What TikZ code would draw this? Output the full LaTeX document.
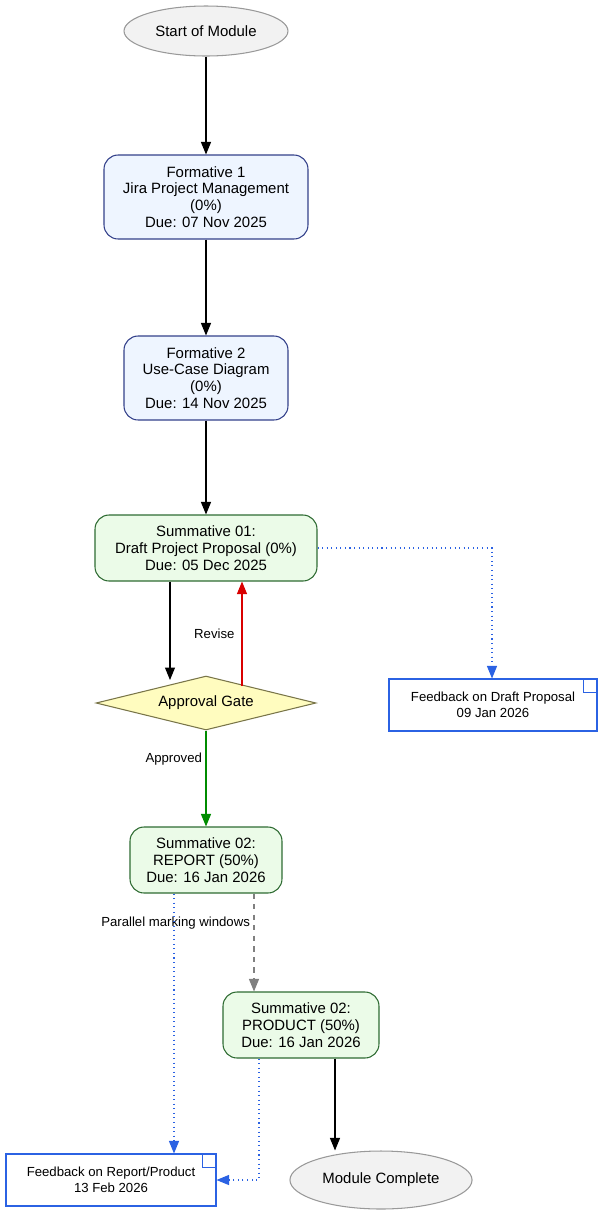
\documentclass[tikz,border=0pt]{standalone}
\usepackage{fontspec}
\setmainfont{Liberation Sans}
\usetikzlibrary{positioning,shapes.geometric,arrows.meta}
\definecolor{fbBlue}{HTML}{2B62E3}
\definecolor{formBlue}{HTML}{EEF5FF}
\definecolor{formLine}{HTML}{33408A}
\definecolor{sumGreen}{HTML}{EBFBE8}
\definecolor{sumLine}{HTML}{2E6B32}
\tikzset{%
  >={Triangle[width=2mm,length=2.5mm]},
  % node styles
         base/.style = {draw, text centered, align=center,
                        font=\fontsize{8.5}{9.6}\selectfont},
    terminal/.style = {base, ellipse, draw=gray!80, fill=gray!10,
                       minimum height=1cm},
   formative/.style = {base, rectangle, rounded corners=8pt, draw=formLine,
                       fill=formBlue, minimum height=1.68cm},
   summative/.style = {base, rectangle, rounded corners=8pt, draw=sumLine,
                       fill=sumGreen, minimum height=1.32cm},
        gate/.style = {base, diamond, aspect=4, draw=black!60!yellow,
                       fill=yellow!25, inner sep=1pt},
    feedback/.style = {base, rectangle, draw=fbBlue, fill=white,
                       minimum height=1.04cm, font=\fontsize{7.5}{9}\selectfont},
         lbl/.style = {font=\fontsize{7.5}{9}\selectfont, fill=white, inner sep=1pt},
      fbline/.style = {->, fbBlue, dotted, line width=0.6pt},
}
\begin{document}
\begin{tikzpicture}[x=0.02cm,y=-0.02cm, line width=0.6pt]
  \useasboundingbox (0,0) rectangle (603,1211);
  % nodes
  \node (startMod)  [terminal, minimum width=3.28cm] at (206,31) {Start of Module};
  \node (form1)     [formative, minimum width=4.08cm] at (206,197)
                    {Formative 1\\Jira Project Management\\(0\%)\\Due: 07 Nov 2025};
  \node (form2)     [formative, minimum width=3.28cm] at (206,378)
                    {Formative 2\\Use-Case Diagram\\(0\%)\\Due: 14 Nov 2025};
  \node (sum1)      [summative, minimum width=4.44cm] at (206,548)
                    {Summative 01:\\Draft Project Proposal (0\%)\\Due: 05 Dec 2025};
  \node (gate)      [gate, minimum width=4.4cm, minimum height=1.08cm] at (206,703) {Approval Gate};
  \node (fbDraft)   [feedback, minimum width=4.16cm] at (493,705)
                    {Feedback on Draft Proposal\\09 Jan 2026};
  \node (report)    [summative, minimum width=3.04cm] at (206,860)
                    {Summative 02:\\REPORT (50\%)\\Due: 16 Jan 2026};
  \node (product)   [summative, minimum width=3.12cm] at (301,1025)
                    {Summative 02:\\PRODUCT (50\%)\\Due: 16 Jan 2026};
  \node (fbReport)  [feedback, minimum width=4.2cm] at (111,1180)
                    {Feedback on Report/Product\\13 Feb 2026};
  \node (modDone)   [terminal, minimum width=3.6cm, minimum height=1.16cm] at (381,1180) {Module Complete};
  % folded corners of the notes
  \foreach \n in {fbDraft,fbReport}
    \draw[fbBlue, line width=0.5pt] ([xshift=-8pt]\n.north east) |- ([yshift=-8pt]\n.north east);
  % connectors
  \draw[->] (startMod) -- (form1);
  \draw[->] (form1) -- (form2);
  \draw[->] (form2) -- (sum1);
  \draw[->] (sum1.south -| 170,0) -- (170,680);
  \draw[->, red!85!black] (242,686) -- node[lbl, left=3pt, text=black] {Revise} (sum1.south -| 242,0);
  \draw[->, green!55!black] (gate) -- node[lbl, left=1pt, pos=0.3, text=black] {Approved} (report);
  \draw[fbline] (sum1.east) -| (fbDraft.north -| 492,0);
  \draw[->, gray, dashed] (report.south -| 254,0) --
        node[lbl, pos=0.3, left=1pt, text=black] {Parallel marking windows} (product.north -| 254,0);
  \draw[fbline] (report.south -| 174,0) -- (fbReport.north -| 174,0);
  \draw[fbline] (product.south -| 259,0) |- (fbReport.east);
  \draw[->] (product.south -| 335,0) -- (modDone.north -| 335,0);
\end{tikzpicture}
\end{document}
